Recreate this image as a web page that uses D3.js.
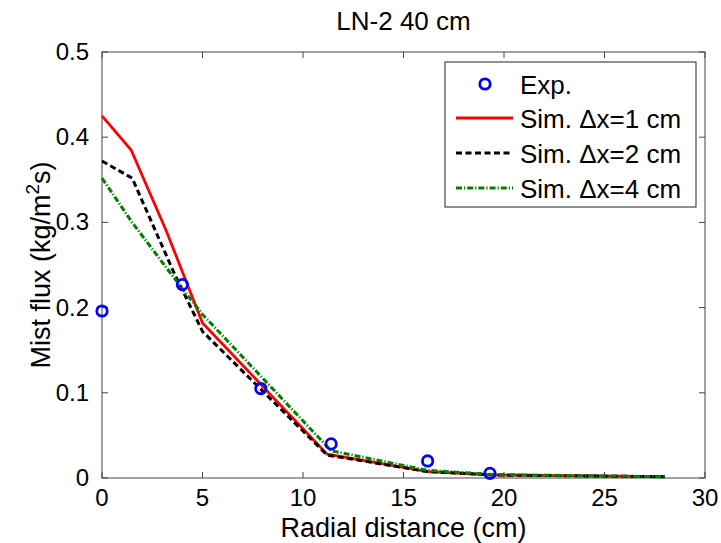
<!DOCTYPE html>
<html>
<head>
<meta charset="utf-8">
<script src="https://cdn.jsdelivr.net/npm/d3@7"></script>
<style>
  body { margin: 0; background: #fff; }
  svg { font-family: "Liberation Sans", Arial, sans-serif; }
</style>
</head>
<body>
<svg id="chart" width="721" height="543"></svg>
<script>
const expX = [0, 4.0, 7.9, 11.4, 16.2, 19.3];
const expY = [0.196, 0.227, 0.105, 0.040, 0.020, 0.0055];

const sim1X = [0, 1.45, 3.2, 5.0, 11.2, 16.2, 19.5, 28];
const sim1Y = [0.425, 0.385, 0.29, 0.182, 0.028, 0.0075, 0.0035, 0.0015];

const sim2X = [0, 1.5, 3.6, 5.0, 11.2, 16.2, 19.5, 28];
const sim2Y = [0.372, 0.352, 0.24, 0.172, 0.027, 0.0075, 0.0035, 0.0015];

const sim4X = [0, 1.5, 4.0, 5.0, 11.4, 16.2, 19.5, 28];
const sim4Y = [0.352, 0.300, 0.222, 0.192, 0.032, 0.009, 0.004, 0.0015];

const xTicks = [0, 5, 10, 15, 20, 25, 30];
const yTicks = [0, 0.1, 0.2, 0.3, 0.4, 0.5];

const series = [
  { label: "Sim. \u0394x=1 cm", xs: sim1X, ys: sim1Y, color: "#ff0000", dash: null, width: 2.8 },
  { label: "Sim. \u0394x=2 cm", xs: sim2X, ys: sim2Y, color: "#000000", dash: "6,3.5", width: 3 },
  { label: "Sim. \u0394x=4 cm", xs: sim4X, ys: sim4Y, color: "#008000", dash: "6,2,1.2,2", width: 3 }
];

const svg = d3.select("#chart");
const margin = { top: 52, right: 16, bottom: 65, left: 102 };
const width = 721, height = 543;

const x = d3.scaleLinear().domain([0, 30]).range([margin.left, width - margin.right]);
const y = d3.scaleLinear().domain([0, 0.5]).range([height - margin.bottom, margin.top]);

const axisColor = "#444";

// frame
svg.append("rect")
  .attr("x", x(0)).attr("y", y(0.5))
  .attr("width", x(30) - x(0)).attr("height", y(0) - y(0.5))
  .attr("fill", "none").attr("stroke", axisColor).attr("stroke-width", 1);

// inward ticks on all four sides
const tickLen = 6;
const tg = svg.append("g").attr("stroke", axisColor).attr("stroke-width", 1);
xTicks.forEach(t => {
  tg.append("line").attr("x1", x(t)).attr("x2", x(t)).attr("y1", y(0)).attr("y2", y(0) - tickLen);
  tg.append("line").attr("x1", x(t)).attr("x2", x(t)).attr("y1", y(0.5)).attr("y2", y(0.5) + tickLen);
});
yTicks.forEach(t => {
  tg.append("line").attr("x1", x(0)).attr("x2", x(0) + tickLen).attr("y1", y(t)).attr("y2", y(t));
  tg.append("line").attr("x1", x(30)).attr("x2", x(30) - tickLen).attr("y1", y(t)).attr("y2", y(t));
});

// tick labels
svg.append("g").selectAll("text")
  .data(xTicks).enter().append("text")
  .attr("x", d => x(d)).attr("y", 506)
  .attr("text-anchor", "middle").attr("font-size", "24px")
  .text(d => d);

svg.append("g").selectAll("text")
  .data(yTicks).enter().append("text")
  .attr("x", x(0) - 13).attr("y", d => y(d) + 8)
  .attr("text-anchor", "end").attr("font-size", "24px")
  .text(d => d === 0 ? "0" : d3.format(".1f")(d));

// lines
const line = d3.line().x(d => x(d[0])).y(d => y(d[1]));
series.forEach(s => {
  svg.append("path")
    .datum(s.xs.map((v, i) => [v, s.ys[i]]))
    .attr("d", line)
    .attr("fill", "none")
    .attr("stroke", s.color)
    .attr("stroke-width", s.width)
    .attr("stroke-dasharray", s.dash);
});

// experimental points
svg.append("g").selectAll("circle")
  .data(expX.map((v, i) => [v, expY[i]]))
  .enter().append("circle")
  .attr("cx", d => x(d[0])).attr("cy", d => y(d[1]))
  .attr("r", 5.2)
  .attr("fill", "none").attr("stroke", "#0000ff").attr("stroke-width", 2.8);

// title and axis labels
svg.append("text")
  .attr("x", (x(0) + x(30)) / 2).attr("y", 30)
  .attr("text-anchor", "middle").attr("font-size", "26px")
  .text("LN-2 40 cm");

svg.append("text")
  .attr("x", (x(0) + x(30)) / 2).attr("y", 537)
  .attr("text-anchor", "middle").attr("font-size", "27px")
  .text("Radial distance (cm)");

const yl = svg.append("text")
  .attr("transform", `translate(50,${(y(0) + y(0.5)) / 2}) rotate(-90)`)
  .attr("text-anchor", "middle").attr("font-size", "27px");
yl.append("tspan").text("Mist flux (kg/m");
yl.append("tspan").attr("font-size", "19px").attr("dy", -11).text("2");
yl.append("tspan").attr("dy", 11).text("s)");

// legend
const lg = svg.append("g");
lg.append("rect")
  .attr("x", 445).attr("y", 62).attr("width", 251).attr("height", 145)
  .attr("fill", "#fff").attr("stroke", "#222").attr("stroke-width", 1);

const rowY = [84, 118, 153, 188];
lg.append("circle")
  .attr("cx", 485).attr("cy", rowY[0])
  .attr("r", 5.2).attr("fill", "none").attr("stroke", "#0000ff").attr("stroke-width", 2.8);
lg.append("text")
  .attr("x", 520).attr("y", rowY[0] + 10).attr("font-size", "26px").text("Exp.");

series.forEach((s, i) => {
  const ry = rowY[i + 1];
  lg.append("line")
    .attr("x1", 456).attr("x2", 513).attr("y1", ry).attr("y2", ry)
    .attr("stroke", s.color).attr("stroke-width", s.width)
    .attr("stroke-dasharray", s.dash);
  lg.append("text")
    .attr("x", 520).attr("y", ry + 10).attr("font-size", "26px").text(s.label);
});
</script>
</body>
</html>
